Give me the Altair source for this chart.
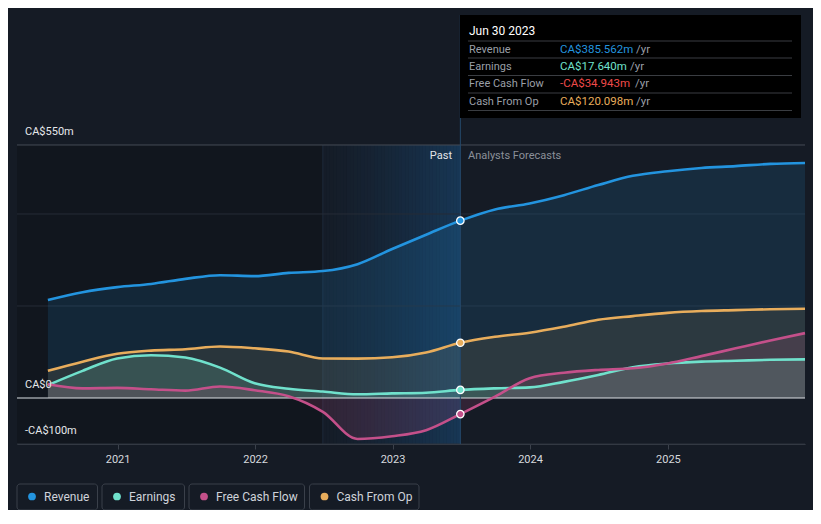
import altair as alt
import pandas as pd

# ---------------- data ----------------
past_dates = ["2020-06-30", "2020-09-30", "2020-12-31", "2021-03-31", "2021-06-30",
              "2021-09-30", "2021-12-31", "2022-03-31", "2022-06-30", "2022-09-30",
              "2022-12-31", "2023-03-31", "2023-06-30"]
forecast_dates = ["2023-09-30", "2023-12-31", "2024-03-31", "2024-06-30", "2024-09-30",
                  "2024-12-31", "2025-03-31", "2025-06-30", "2025-09-30", "2025-12-31"]

revenue = [213, 230, 241, 248, 259, 267, 265, 272, 276, 291, 324, 355, 385.562,
           410, 423, 441, 463, 483, 493, 500, 504, 509, 511]
earnings = [28, 59, 86, 93, 88, 66, 32, 20, 14, 8, 10, 11.5, 17.64,
            21, 23, 35, 50, 67, 75, 79, 81, 83, 84]
free_cash_flow = [30, 21, 22, 19, 16, 25, 17, 4, -30, -89, -83, -70, -34.943,
                  3, 43, 55, 61, 64.5, 75, 91, 108, 125, 141]
cash_from_op = [59, 79, 96, 103, 106, 112, 108, 101, 86, 85.5, 88.5, 99, 120.098,
                133, 142, 155, 170, 178, 185, 189, 191, 193, 194]

series_names = ["Revenue", "Earnings", "Free Cash Flow", "Cash From Op"]
series_values = [revenue, earnings, free_cash_flow, cash_from_op]
series_colors = ["#2394df", "#70e1cc", "#c4508a", "#e8ad5c"]

tooltip_title = "Jun 30 2023"
tooltip_values = ["CA$385.562m", "CA$17.640m", "-CA$34.943m", "CA$120.098m"]
tooltip_value_colors = ["#2394df", "#70e1cc", "#f04a4a", "#e8ad5c"]

y_tick_values = [550, 0, -100]
y_tick_labels = ["CA$550m", "CA$0", "-CA$100m"]
year_ticks = [2021, 2022, 2023, 2024, 2025]

present_date = "2023-06-30"
band_start_date = "2022-06-30"

# ---------------- build tables ----------------
all_dates = past_dates + forecast_dates
rows = []
for name, vals in zip(series_names, series_values):
    for d, v in zip(all_dates, vals):
        rows.append({"series": name, "date": pd.Timestamp(d), "value": v, "zero": 0})
df = pd.DataFrame(rows)
df_now = df[df["date"] == pd.Timestamp(present_date)]

FONT = "Roboto"
BG = "#151b25"
Y_TOP = 832.6

xscale = alt.Scale(domain=[alt.DateTime(year=2020, month=4, date=9),
                           alt.DateTime(year=2025, month=12, date=31)])
yscale = alt.Scale(domain=[-100, Y_TOP], nice=False, zero=False)
xaxis = alt.Axis(values=[alt.DateTime(year=y, month=1, date=1) for y in year_ticks],
                 format="%Y", labelColor="#d6d9de", labelFontSize=11, labelFont=FONT,
                 domainColor="#3b414b", tickColor="#3b414b", tickSize=5, grid=False,
                 labelPadding=4, title=None, labelFlush=False)

color_scale = alt.Scale(domain=series_names, range=series_colors)

X = alt.X("date:T", scale=xscale, axis=xaxis)
Y = alt.Y("value:Q", scale=yscale, axis=None)

one = pd.DataFrame({"a": [0]})
band_df = pd.DataFrame({"start": [pd.Timestamp("2020-04-09")],
                        "mid": [pd.Timestamp(band_start_date)],
                        "end": [pd.Timestamp(present_date)],
                        "top": [550], "bottom": [-100], "ceil": [Y_TOP]})

# darker past region
past_dark = alt.Chart(band_df).mark_rect(color="#000000", opacity=0.18).encode(
    x=alt.X("start:T", scale=xscale, axis=xaxis), x2="mid:T",
    y=alt.Y("top:Q", scale=yscale, axis=None), y2="bottom:Q")

# last-year highlight: a left-to-right fade built from thin slices
n_slices = 40
edges = pd.date_range(band_start_date, present_date, periods=n_slices + 1)
slice_df = pd.DataFrame({
    "s0": edges[:-1], "s1": edges[1:],
    "op": [0.02 + 0.28 * (i / (n_slices - 1)) ** 1.3 for i in range(n_slices)],
    "top": 550, "bottom": -100})
band = alt.Chart(slice_df).mark_rect(color="#1f78c4", strokeWidth=0).encode(
    x=alt.X("s0:T", scale=xscale, axis=xaxis), x2="s1:T",
    y=alt.Y("top:Q", scale=yscale, axis=None), y2="bottom:Q",
    opacity=alt.Opacity("op:Q", scale=None))

band_edge = alt.Chart(band_df).mark_rule(color="#1d2a3a", strokeWidth=1).encode(
    x=alt.X("mid:T", scale=xscale, axis=xaxis),
    y=alt.Y("top:Q", scale=yscale, axis=None), y2="bottom:Q")

present_line = alt.Chart(band_df).mark_rule(color="#24496b", strokeWidth=1).encode(
    x=alt.X("end:T", scale=xscale, axis=xaxis),
    y=alt.Y("ceil:Q", scale=yscale, axis=None), y2="bottom:Q")

grid_df = pd.DataFrame({"v": [200, 400]})
grid_faint = alt.Chart(grid_df).mark_rule(color="#262c37", strokeWidth=1).encode(
    y=alt.Y("v:Q", scale=yscale, axis=None))
grid_top = alt.Chart(pd.DataFrame({"v": [550]})).mark_rule(color="#444a55", strokeWidth=1).encode(
    y=alt.Y("v:Q", scale=yscale, axis=None))
grid_bottom = alt.Chart(pd.DataFrame({"v": [-100]})).mark_rule(color="#2d323c", strokeWidth=1).encode(
    y=alt.Y("v:Q", scale=yscale, axis=None))

areas = []
area_opac = {"Revenue": 0.14, "Cash From Op": 0.10, "Earnings": 0.18, "Free Cash Flow": 0.16}
for name, col in zip(series_names, series_colors):
    areas.append(
        alt.Chart(df[df["series"] == name]).mark_area(
            color=col, opacity=area_opac[name], interpolate="monotone").encode(
            x=X, y=Y, y2="zero:Q"))

zero_line = alt.Chart(pd.DataFrame({"v": [0]})).mark_rule(color="#dcdfe4", strokeWidth=1.2).encode(
    y=alt.Y("v:Q", scale=yscale, axis=None))

lines = alt.Chart(df).mark_line(strokeWidth=2.6, interpolate="monotone").encode(
    x=X, y=Y, color=alt.Color("series:N", scale=color_scale, legend=None),
    detail="series:N")

points = alt.Chart(df_now).mark_point(filled=True, size=55, stroke="#ffffff",
                                      strokeWidth=1.3, opacity=1).encode(
    x=X, y=Y, fill=alt.Fill("series:N", scale=color_scale, legend=None))

ylab_df = pd.DataFrame({"v": y_tick_values, "t": y_tick_labels})
y_labels = alt.Chart(ylab_df).mark_text(align="left", baseline="middle", dy=-13,
                                         font=FONT, fontSize=11, color="#e6e8eb").encode(
    x=alt.value(8), y=alt.Y("v:Q", scale=yscale, axis=None), text="t:N")

past_txt = alt.Chart(one).mark_text(text="Past", align="right", baseline="middle",
                                    font=FONT, fontSize=11, color="#e2e4e8").encode(
    x=alt.value(435), y=alt.value(141))
fc_txt = alt.Chart(one).mark_text(text="Analysts Forecasts", align="left", baseline="middle",
                                  font=FONT, fontSize=11, color="#8b9099").encode(
    x=alt.value(451), y=alt.value(141))

# ---------------- tooltip box ----------------
tip_layers = []
tip_layers.append(alt.Chart(one).mark_rect(color="#000000").encode(
    x=alt.value(443), x2=alt.value(784), y=alt.value(0), y2=alt.value(103)))
tip_layers.append(alt.Chart(one).mark_text(text=tooltip_title, align="left", baseline="middle",
                                           font=FONT, fontSize=12, fontWeight="normal",
                                           color="#ffffff").encode(
    x=alt.value(452), y=alt.value(16)))
sep_ys = [26, 43, 60.5, 78, 95.5]
for sy in sep_ys:
    tip_layers.append(alt.Chart(one).mark_rule(color="#3a3d42", strokeWidth=1).encode(
        x=alt.value(451), x2=alt.value(775), y=alt.value(sy)))
row_ys = [34.5, 51.5, 69, 86.5]
yr_xs = [619, 613, 618, 619]
for name, val, vcol, ry, yx in zip(series_names, tooltip_values, tooltip_value_colors, row_ys, yr_xs):
    tip_layers.append(alt.Chart(one).mark_text(text=name, align="left", baseline="middle",
                                               font=FONT, fontSize=11, color="#9a9fa7").encode(
        x=alt.value(452), y=alt.value(ry)))
    tip_layers.append(alt.Chart(one).mark_text(text=val, align="left", baseline="middle",
                                               font=FONT, fontSize=11.5, color=vcol).encode(
        x=alt.value(543), y=alt.value(ry)))
    tip_layers.append(alt.Chart(one).mark_text(text="/yr", align="left", baseline="middle",
                                               font=FONT, fontSize=11.5, color="#9a9fa7").encode(
        x=alt.value(yx), y=alt.value(ry)))

# ---------------- legend ----------------
leg_layers = []
box_x = [(0, 80.5), (85, 167.5), (172, 287.5), (292.5, 402)]
for name, col, (bx0, bx1) in zip(series_names, series_colors, box_x):
    leg_layers.append(alt.Chart(one).mark_rect(fill=BG, stroke="#3a404a", strokeWidth=1,
                                               cornerRadius=3).encode(
        x=alt.value(bx0), x2=alt.value(bx1), y=alt.value(469), y2=alt.value(495)))
    leg_layers.append(alt.Chart(one).mark_point(filled=True, size=60, color=col, opacity=1).encode(
        x=alt.value(bx0 + 15), y=alt.value(481.5)))
    leg_layers.append(alt.Chart(one).mark_text(text=name, align="left", baseline="middle",
                                               font=FONT, fontSize=12, color="#cfd3da").encode(
        x=alt.value(bx0 + 27), y=alt.value(481.5)))

chart = alt.layer(
    past_dark, band, band_edge, grid_faint, grid_top, grid_bottom,
    *areas, zero_line, present_line, lines, points, y_labels, past_txt, fc_txt,
    *tip_layers, *leg_layers
).properties(
    width=788, height=429,
    autosize=alt.AutoSizeParams(type="none"),
    padding={"left": 9, "top": 7, "right": 8, "bottom": 66}
).configure(background=BG).configure_view(strokeWidth=0)

chart.save("out.html", embed_options={"renderer": "svg", "actions": False})
